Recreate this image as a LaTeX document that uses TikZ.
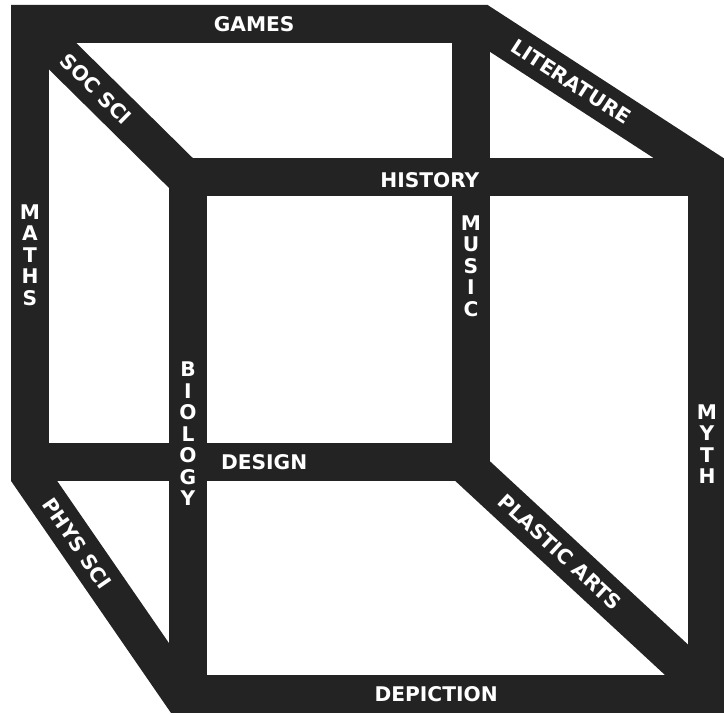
\documentclass[tikz,border=0pt]{standalone}
\usepackage{fontspec}
\newfontfamily\barfont{DejaVu Sans}
\usepackage{xcolor}
\definecolor{barcol}{HTML}{232323}

\begin{document}
\begin{tikzpicture}[
  x=0.02cm, y=-0.02cm,
  bar/.style={draw=barcol, line width=0.76cm, line join=miter},
  lbl/.style={text=white, inner sep=0pt, font=\barfont\bfseries\fontsize{11.5}{12.24}\selectfont},
  stack/.style={lbl, align=center}
]
\useasboundingbox (0,0) rectangle (724,715);

\coordinate (btl) at (30,24);
\coordinate (btr) at (471,24);
\coordinate (bbr) at (471,462);
\coordinate (bbl) at (30,462);
\coordinate (ftl) at (188,177);
\coordinate (ftr) at (707,177);
\coordinate (fbr) at (707,694);
\coordinate (fbl) at (188,694);
\coordinate (lit-a) at (482,24);
\coordinate (lit-b) at (707,170);
\coordinate (phys-a) at (30,475);
\coordinate (phys-b) at (181,694);
\coordinate (soc-b) at (188,180);
\coordinate (plas-a) at (466,465);
\coordinate (plas-b) at (707,688);

\draw[bar] (btl) -- node[lbl, pos=0.496] (games) {GAMES} (lit-a)
  -- node[lbl, sloped, pos=0.396] (lit) {LITERATURE} (lit-b)
  -- node[stack, pos=0.523] (myth) {M\\Y\\T\\H} (fbr)
  -- node[lbl, pos=0.515] (depic) {DEPICTION} (phys-b)
  -- node[lbl, sloped, pos=0.689] (phys) {PHYS SCI} (phys-a)
  -- node[stack, pos=0.488] (maths) {M\\A\\T\\H\\S} cycle;

\draw[bar] (btr) -- node[stack, pos=0.553] (music) {M\\U\\S\\I\\C} (bbr)
  -- node[lbl, pos=0.469] (design) {DESIGN} (bbl);

\draw[bar] (btl) -- node[lbl, sloped, pos=0.418] (soc) {SOC SCI} (soc-b);

\draw[bar] (fbl) -- node[stack, pos=0.503] (bio) {B\\I\\O\\L\\O\\G\\Y} (ftl)
  -- node[lbl, pos=0.466, yshift=-1.7pt] (hist) {HISTORY} (ftr);

\draw[bar] (plas-a) -- node[lbl, sloped, pos=0.39] (plas) {PLASTIC ARTS} (plas-b);
\end{tikzpicture}
\end{document}
